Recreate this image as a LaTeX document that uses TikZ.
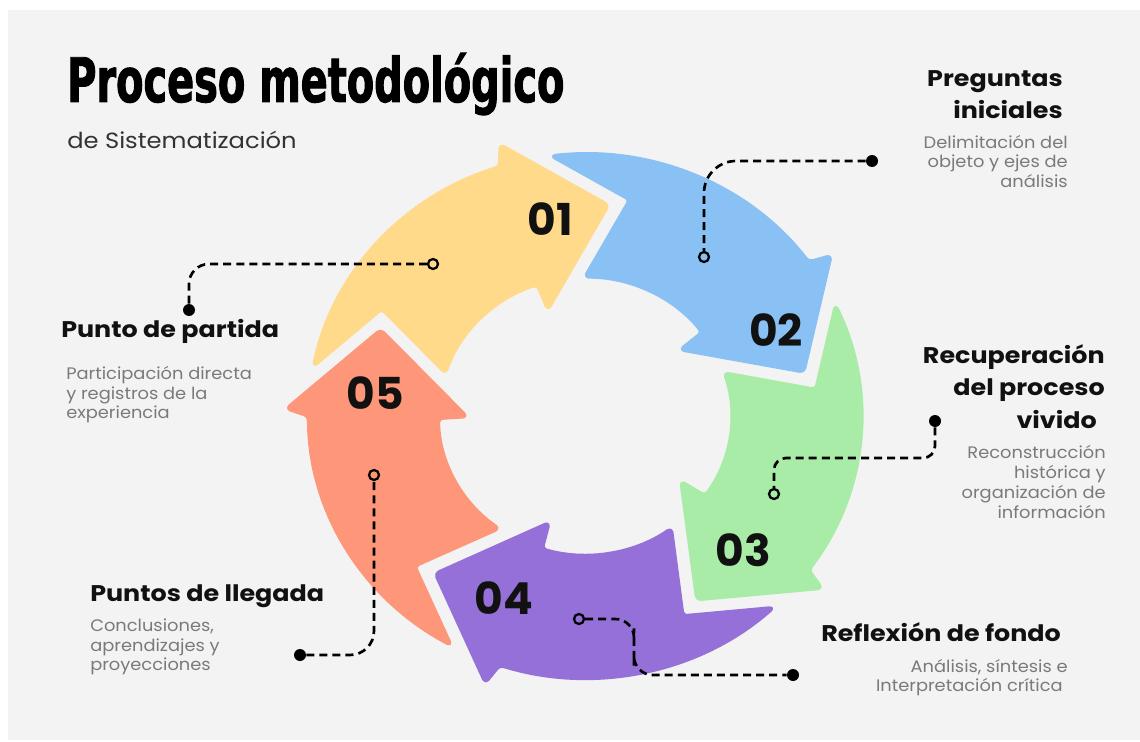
\documentclass[tikz,border=0pt]{standalone}
\usepackage{fontspec}
\setmainfont{Poppins}
\newfontfamily\titlefont[FakeStretch=0.65,FakeBold=1.5]{DejaVu Sans Bold}
\newfontfamily\headfont[FakeStretch=1.12]{Poppins Bold}
\newfontfamily\descfont[FakeStretch=1.07]{Poppins}
\newfontfamily\subfont[FakeStretch=1.1]{Poppins}
\definecolor{bg}{HTML}{F3F3F3}
\definecolor{ylw}{HTML}{FFDA8B}
\definecolor{blu}{HTML}{8AC1F4}
\definecolor{grn}{HTML}{A8ECA8}
\definecolor{pur}{HTML}{9670D9}
\definecolor{sal}{HTML}{FE9679}
\definecolor{desc}{HTML}{7A7A7A}
\definecolor{ink}{HTML}{111111}
\definecolor{subc}{HTML}{333333}
\tikzset{
 num/.style={inner sep=0pt, font=\bfseries\fontsize{33}{33}\selectfont, text=ink},
 head/.style={inner sep=0pt, font=\headfont\fontsize{17}{20}\selectfont, text=ink},
 desc/.style={inner sep=0pt, font=\descfont\fontsize{12.5}{15}\selectfont, text=desc},
 conn/.style={line width=2pt, dash pattern=on 6pt off 3.8pt, draw=black},
 enddot/.style={circle, fill=black, inner sep=0pt, minimum size=9pt},
 endring/.style={circle, draw=black, line width=1.7pt, inner sep=0pt, minimum size=7.5pt},
 arrowshape/.style={line width=2.5pt, line join=round, rounded corners=3pt},
}
\begin{document}
\begin{tikzpicture}[x=0.75pt,y=0.75pt]
\useasboundingbox (0,0) rectangle (1140,-742);
\fill[white] (0,0) rectangle (1140,-742);
\fill[bg] (8,-10) rectangle (1140,-740);

% ring of arrows
\begin{scope}[shift={(585,-416)}, xscale=1.055]
\foreach \c [count=\i from 0] in {ylw,blu,grn,pur,sal}{
  \path[fill=\c, draw=\c, arrowshape, rotate=-72*\i]
    (169:262) arc[start angle=169, end angle=108, radius=262]
    -- (106.5:283) -- (84:212) -- (108.3:112) -- (109:139)
    arc[start angle=109, end angle=162.05, radius=139]
    -- (150.9:220.4) -- cycle;
}
\end{scope}

% numbers
\node[num] (n1) at (550.5,-219) {01};
\node[num] (n2) at (776,-330) {02};
\node[num] (n3) at (743,-550) {03};
\node[num] (n4) at (504,-598) {04};
\node[num] (n5) at (375,-393) {05};

% title
\node[anchor=base west, inner sep=0pt, font=\titlefont\fontsize{46}{46}\selectfont, text=black] (title) at (67,-102) {Proceso metodológico};
\node[anchor=base west, inner sep=0pt, font=\subfont\fontsize{16.5}{16.5}\selectfont, text=subc] (subtitle) at (67,-148) {de Sistematización};

% 1 Preguntas iniciales
\node[head, anchor=base east] (h1a) at (1063,-87) {Preguntas};
\node[head, anchor=base east] (h1b) at (1063,-119) {iniciales};
\node[desc, anchor=base east] (p1a) at (1068,-148) {Delimitación del};
\node[desc, anchor=base east] (p1b) at (1068,-167) {objeto y ejes de};
\node[desc, anchor=base east] (p1c) at (1068,-187) {análisis};

% 2 Recuperacion
\node[head, anchor=base east] (h2a) at (1105,-363) {Recuperación};
\node[head, anchor=base east] (h2b) at (1105,-395) {del proceso};
\node[head, anchor=base east] (h2c) at (1097,-428) {vivido};
\node[desc, anchor=base east] (p2a) at (1106,-458) {Reconstrucción};
\node[desc, anchor=base east] (p2b) at (1106,-478) {histórica y};
\node[desc, anchor=base east] (p2c) at (1106,-498) {organización de};
\node[desc, anchor=base east] (p2d) at (1106,-518) {información};

% 3 Reflexion
\node[head, anchor=base west] (h3) at (821,-641) {Reflexión de fondo};
\node[desc, anchor=base east] (p3a) at (1068,-672) {Análisis, síntesis e};
\node[desc, anchor=base east] (p3b) at (1063,-691) {Interpretación crítica};

% 4 Puntos de llegada
\node[head, anchor=base west] (h4) at (90,-601) {Puntos de llegada};
\node[desc, anchor=base west] (p4a) at (90,-631) {Conclusiones,};
\node[desc, anchor=base west] (p4b) at (90,-651) {aprendizajes y};
\node[desc, anchor=base west] (p4c) at (90,-670) {proyecciones};

% 5 Punto de partida
\node[head, anchor=base west] (h5) at (61,-337) {Punto de partida};
\node[desc, anchor=base west] (p5a) at (66,-379) {Participación directa};
\node[desc, anchor=base west] (p5b) at (66,-399) {y registros de la};
\node[desc, anchor=base west] (p5c) at (66,-418) {experiencia};

% connectors
\node[enddot] (d1) at (872,-161) {};
\node[endring] (c1) at (704,-257) {};
\draw[conn, rounded corners=24pt] (d1) -| (c1);

\node[enddot] (d2) at (935,-421) {};
\node[endring] (c2) at (774,-494) {};
\coordinate (k2) at (854,-458);
\draw[conn, rounded corners=9pt] (d2) |- (k2) -| (c2);

\node[endring] (c3) at (579,-619) {};
\node[enddot] (d3) at (793,-675) {};
\coordinate (k3) at (634,-647);
\draw[conn, rounded corners=14pt] (c3) -| (k3) |- (d3);

\node[enddot] (d4) at (300,-655) {};
\node[endring] (c4) at (374,-475) {};
\draw[conn, rounded corners=18pt] (d4) -| (c4);

\node[enddot] (d5) at (189,-310) {};
\node[endring] (c5) at (433,-264) {};
\draw[conn, rounded corners=15pt] (d5) |- (c5);
\end{tikzpicture}
\end{document}
